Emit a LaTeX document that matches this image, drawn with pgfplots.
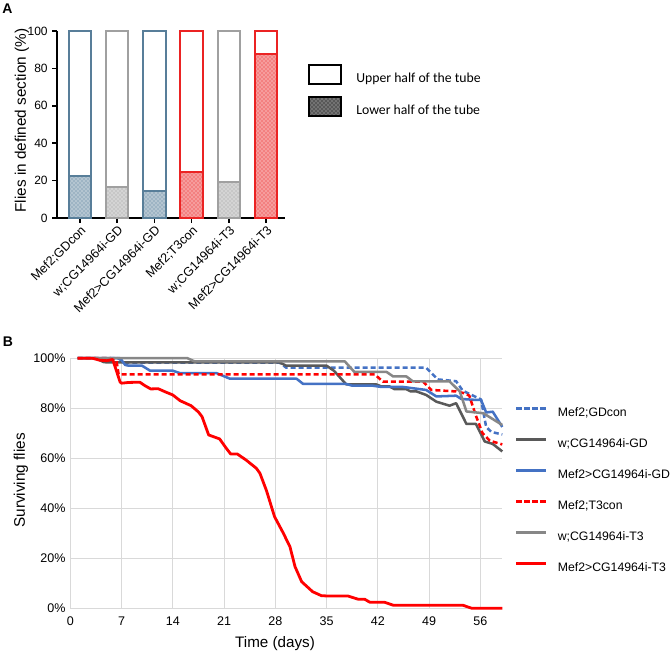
\documentclass[border=0pt]{standalone}
\usepackage{fontspec}
\setmainfont{Liberation Sans}
\newfontfamily\carlito{Carlito}
\usepackage{pgfplots}
\pgfplotsset{compat=1.18}
\usetikzlibrary{patterns}
\definecolor{abl}{RGB}{88,126,153}
\definecolor{agr}{RGB}{160,160,160}
\definecolor{ard}{RGB}{235,35,35}
\definecolor{bbl}{RGB}{68,114,196}
\definecolor{brd}{RGB}{255,0,0}
\definecolor{bdg}{RGB}{89,89,89}
\definecolor{blg}{RGB}{135,135,135}
\definecolor{grd}{RGB}{217,217,217}
\begin{document}
\begin{tikzpicture}
\useasboundingbox (0,0) rectangle (502.5pt,491.25pt);
\node[font=\fontsize{10.5}{12}\selectfont\bfseries] at (5.6pt,485pt) {A};
\node[font=\fontsize{10.5}{12}\selectfont\bfseries] at (6pt,234.75pt) {B};

% ---------------- Panel A ----------------
\begin{axis}[
  at={(42.75pt,327.75pt)}, anchor=south west, scale only axis,
  width=171pt, height=140.25pt,
  xmin=-0.618, xmax=5.51, ymin=0, ymax=100,
  axis x line*=bottom, axis y line*=left,
  axis line style={line width=1.3pt, black},
  xtick={0,1,2,3,4,5},
  xticklabels={Mef2;GDcon, w;CG14964i-GD, Mef2>CG14964i-GD, Mef2;T3con, w;CG14964i-T3, Mef2>CG14964i-T3},
  ytick={0,20,40,60,80,100},
  tick align=outside, major tick length=3.5pt,
  tick style={line width=1.2pt, black},
  xticklabel style={rotate=45, anchor=north east, font=\fontsize{9.5}{11}\selectfont, inner sep=1pt},
  yticklabel style={font=\fontsize{9}{11}\selectfont},
  /pgf/number format/assume math mode=true,
  ylabel={Flies in defined section (\%)},
  ylabel style={at={(rel axis cs:0,0.521)}, anchor=center, yshift=26.25pt, font=\fontsize{11.5}{13}\selectfont},
  clip=false,
  legend image code/.code={\draw[#1, line width=1.5pt] (0pt,-3.8pt) rectangle (24pt,10.45pt);},
  legend style={at={(1.101,0.827)}, anchor=north west, draw=none, fill=none, inner sep=0pt,
    row sep=8.25pt, column sep=10.5pt, font=\carlito\fontsize{10.3}{12}\selectfont, nodes={inner sep=0pt}},
  legend cell align=left,
]
\addplot[ybar, bar width=0.6, bar shift=0pt, draw=abl, fill=white, line width=1.5pt, forget plot] coordinates {(0,100)};
\addplot[ybar, bar width=0.6, bar shift=0pt, draw=abl, fill=abl!45, postaction={pattern=crosshatch dots, pattern color=abl}, line width=1.5pt, forget plot] coordinates {(0,22.6)};
\addplot[ybar, bar width=0.6, bar shift=0pt, draw=agr, fill=white, line width=1.5pt, forget plot] coordinates {(1,100)};
\addplot[ybar, bar width=0.6, bar shift=0pt, draw=agr, fill=agr!45, postaction={pattern=crosshatch dots, pattern color=agr}, line width=1.5pt, forget plot] coordinates {(1,16.7)};
\addplot[ybar, bar width=0.6, bar shift=0pt, draw=abl, fill=white, line width=1.5pt, forget plot] coordinates {(2,100)};
\addplot[ybar, bar width=0.6, bar shift=0pt, draw=abl, fill=abl!45, postaction={pattern=crosshatch dots, pattern color=abl}, line width=1.5pt, forget plot] coordinates {(2,14.4)};
\addplot[ybar, bar width=0.6, bar shift=0pt, draw=ard, fill=white, line width=1.5pt, forget plot] coordinates {(3,100)};
\addplot[ybar, bar width=0.6, bar shift=0pt, draw=ard, fill=ard!45, postaction={pattern=crosshatch dots, pattern color=ard}, line width=1.5pt, forget plot] coordinates {(3,24.4)};
\addplot[ybar, bar width=0.6, bar shift=0pt, draw=agr, fill=white, line width=1.5pt, forget plot] coordinates {(4,100)};
\addplot[ybar, bar width=0.6, bar shift=0pt, draw=agr, fill=agr!45, postaction={pattern=crosshatch dots, pattern color=agr}, line width=1.5pt, forget plot] coordinates {(4,19.0)};
\addplot[ybar, bar width=0.6, bar shift=0pt, draw=ard, fill=white, line width=1.5pt, forget plot] coordinates {(5,100)};
\addplot[ybar, bar width=0.6, bar shift=0pt, draw=ard, fill=ard!45, postaction={pattern=crosshatch dots, pattern color=ard}, line width=1.5pt, forget plot] coordinates {(5,87.5)};
\addlegendimage{draw=black, fill=white}
\addlegendentry{Upper half of the tube}
\addlegendimage{draw=black, fill=black!55, postaction={pattern=crosshatch dots, pattern color=black}}
\addlegendentry{Lower half of the tube}
\end{axis}

% ---------------- Panel B ----------------
\begin{axis}[
  at={(52.7pt,35.1pt)}, anchor=south west, scale only axis,
  width=324pt, height=187.5pt,
  xmin=0, xmax=59, ymin=0, ymax=100,
  xtick={0,7,14,21,28,35,42,49,56}, ytick={0,20,40,60,80,100},
  yticklabel={\pgfmathprintnumber{\tick}\%},
  grid=major, grid style={grd, line width=0.6pt},
  axis line style={draw=none}, major tick length=0pt,
  tick label style={font=\fontsize{9.4}{11}\selectfont},
  xticklabel style={yshift=-3pt},
  /pgf/number format/assume math mode=true,
  xlabel={Time (days)},
  xlabel style={at={(rel axis cs:0.474,0)}, anchor=center, yshift=-26.8pt, font=\fontsize{11.4}{13}\selectfont},
  ylabel={Surviving flies},
  ylabel style={at={(rel axis cs:0,0.511)}, anchor=center, yshift=37pt, font=\fontsize{11.5}{13}\selectfont},
  clip=false,
  legend image code/.code={\draw[#1] (0pt,3.2pt) -- (22.5pt,3.2pt);},
  legend style={at={(1.029,0.806)}, anchor=north west, draw=none, fill=none, inner sep=0pt,
    row sep=14.25pt, column sep=7.5pt, font=\fontsize{9.2}{11}\selectfont,
    nodes={inner sep=0pt, text height=7pt, text depth=2pt}},
  legend cell align=left,
  every axis plot/.append style={sharp plot, line join=round, line width=1.9pt},
]
\addplot[bbl, dash pattern=on 3.8pt off 2.2pt] coordinates {
(1,100) (6.5,100) (7.5,98.2) (28.6,98.2) (29.5,96.2) (48.6,96.2) (50.2,91.5) (52.7,90.8) (53.6,87) (56.1,83.5) (56.8,72.5) (57.5,70.5) (59,69.5)};
\addlegendentry{Mef2;GDcon}
\addplot[bdg] coordinates {
(1,100) (3.5,100) (4.5,98.5) (5,98.3) (28.6,98.3) (29.5,97) (35,97) (36,95) (37.7,89.5) (41.8,89.5) (42.5,88.7) (43.6,88.7) (44.3,87.6) (45.9,87.6) (46.5,86.7) (47.3,86.7) (48.6,85.3) (50,82.6) (51.8,81) (52.7,82) (53.6,76.7) (54.1,73.7) (55.4,73.7) (56.6,66.7) (57.7,65.7) (59,62.7)};
\addlegendentry{w;CG14964i-GD}
\addplot[bbl] coordinates {
(1,100) (6.8,100) (7.5,97.3) (8,97) (9.8,97) (10.9,95) (14,95) (15,94) (20,94) (21.8,91.8) (30.9,91.8) (31.8,89.7) (37.7,89.7) (38.5,89) (41.3,89) (42.5,88.5) (45.4,88.5) (48.6,87.3) (50,84.7) (52.7,85) (53.4,83.7) (55.4,83.3) (56.1,83.3) (56.8,78.3) (57.7,78.6) (59,72.5)};
\addlegendentry{Mef2>CG14964i-GD}
\addplot[brd, dash pattern=on 3.8pt off 2.2pt] coordinates {
(1,100) (5.5,100) (6.3,99) (6.6,93.6) (7,93.5) (41.6,93.5) (42.7,90.6) (48.2,90.6) (49.3,87.3) (52.7,86.7) (53.8,86) (54.5,85) (55.4,77) (56.3,70) (57.3,67) (59,65.5)};
\addlegendentry{Mef2;T3con}
\addplot[blg] coordinates {
(1,100) (16,100) (17,98.7) (37.5,98.7) (38.8,94.5) (43.2,94.5) (44.1,92.7) (45.9,92.7) (46.8,90.7) (51.8,90.7) (53.2,86.7) (54.1,78.7) (56.4,78) (59,73.3)};
\addlegendentry{w;CG14964i-T3}
\addplot[brd, line width=2.1pt] coordinates {
(1,100) (3,100) (4,99.2) (5,99) (5.8,99.5) (6.3,95) (6.8,90.5) (7,90) (8,90.3) (9.5,90.4) (10.2,89) (11,87.7) (12,87.8) (13,86.5) (14,85.3) (15,83) (16.5,81) (17.5,78.5) (18,76.6) (18.9,69.3) (20.4,67.7) (21.3,64) (21.9,61.7) (22.8,61.7) (24,59.3) (25.4,56) (25.9,54) (26.8,47) (27.9,36.6) (29.1,30) (30,24.6) (30.7,16.6) (31.6,10.6) (33.1,6.6) (34.3,5) (35,4.9) (37.9,4.9) (39.3,3.6) (40.2,3.6) (40.9,2.4) (42.9,2.4) (44.1,1.2) (53.6,1.2) (54.8,0) (59,0)};
\addlegendentry{Mef2>CG14964i-T3}
\end{axis}
\end{tikzpicture}
\end{document}
